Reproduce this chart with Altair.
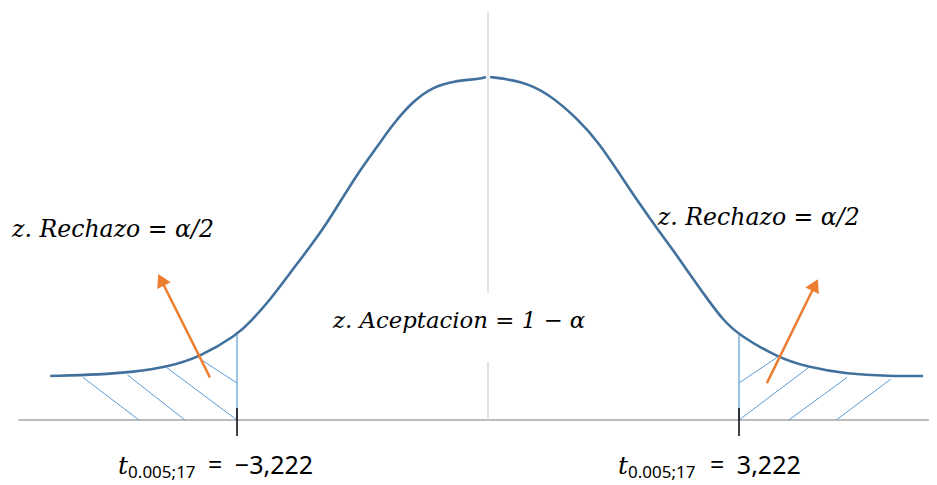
import altair as alt
import pandas as pd
import math

# ---- data (t units on x, density-like units on y) ----
left_t = [-5.62, -4.98, -4.56, -4.12, -3.70, -3.222, -3.055, -2.798, -2.542, -2.285,
          -2.067, -1.861, -1.643, -1.425, -1.220, -0.963, -0.706, -0.449, -0.103, -0.026]
left_d = [0.0506, 0.0523, 0.0552, 0.0609, 0.0724, 0.0977, 0.1126, 0.1379, 0.1690, 0.1989,
          0.2264, 0.2563, 0.2874, 0.3138, 0.3402, 0.3667, 0.3828, 0.3897, 0.3920, 0.3943]
right_t = [0.026, 0.424, 0.770, 1.168, 1.425, 1.682, 1.938, 2.157, 2.375, 2.580,
           2.798, 3.017, 3.222, 3.710, 4.095, 4.609, 5.160, 5.584]
right_d = [0.3943, 0.3897, 0.3759, 0.3448, 0.3184, 0.2839, 0.2494, 0.2218, 0.1954, 0.1690,
           0.1414, 0.1149, 0.0977, 0.0724, 0.0609, 0.0529, 0.0506, 0.0506]

t_crit = 3.222
crit_height = 0.0977

# hatch segments (x, y, x2, y2)
hatch_x1 = [-5.20, -4.63, -4.12, -3.66, 3.222, 3.222, 3.86, 4.47]
hatch_y1 = [0.049, 0.052, 0.060, 0.068, 0.0425, 0.0, 0.0, 0.0]
hatch_x2 = [-4.48, -3.89, -3.222, -3.222, 3.71, 4.11, 4.61, 5.17]
hatch_y2 = [0.0, 0.0, 0.0, 0.0425, 0.072, 0.060, 0.049, 0.047]

# arrows: tail -> tip
arrow_tail_t = [-3.57, 3.58]
arrow_tail_d = [0.049, 0.0425]
arrow_tip_t = [-4.24, 4.24]
arrow_tip_d = [0.169, 0.163]

labels = ["z. Rechazo = α/2", "z. Rechazo = α/2", "z. Aceptacion = 1 − α"]
label_t = [-6.11, 2.18, -1.99]
label_d = [0.210, 0.224, 0.106]
label_size = [23.6, 23.6, 22.8]

crit_sub = "0.005;17"
crit_values = ["=\u2002−3,222", "=\u20023,222"]

# ---- scales ----
PX_PER_T = 77.9
PX_PER_D = 870.0
xs = alt.Scale(domain=[-6.162, 5.661], nice=False, zero=False)
ys = alt.Scale(domain=[-0.0735, 0.4736], nice=False, zero=False)
X = lambda f: alt.X(f, type="quantitative", scale=xs, axis=None)
Y = lambda f: alt.Y(f, type="quantitative", scale=ys, axis=None)

curve = pd.DataFrame({
    "t": left_t + right_t,
    "d": left_d + right_d,
    "side": ["L"] * len(left_t) + ["R"] * len(right_t),
})

base_df = pd.DataFrame({"x": [-6.03], "x2": [5.66], "y": [0.0], "y2": [0.0]})
center_df = pd.DataFrame({"x": [0.0, 0.0], "x2": [0.0, 0.0],
                          "y": [0.469, 0.0667], "y2": [0.146, 0.0]})
crit_df = pd.DataFrame({"x": [-t_crit, t_crit], "x2": [-t_crit, t_crit],
                        "y": [0.0, 0.0], "y2": [crit_height, crit_height]})
tick_df = pd.DataFrame({"x": [-t_crit, t_crit], "x2": [-t_crit, t_crit],
                        "y": [0.0138, 0.0138], "y2": [-0.0184, -0.0184]})
hatch_df = pd.DataFrame({"x": hatch_x1, "y": hatch_y1, "x2": hatch_x2, "y2": hatch_y2})

heads = []
shafts = []
for tt, td, pt, pd_ in zip(arrow_tail_t, arrow_tail_d, arrow_tip_t, arrow_tip_d):
    dx = (pt - tt) * PX_PER_T
    dy = -(pd_ - td) * PX_PER_D
    L = math.hypot(dx, dy)
    ux, uy = dx / L, dy / L
    back = 7.5
    hx = pt - back * ux / PX_PER_T
    hy = pd_ + back * uy / PX_PER_D
    ang = math.degrees(math.atan2(dx, -dy)) % 360
    heads.append({"x": hx, "y": hy, "angle": ang})
    sb = 12.0
    shafts.append({"x": tt, "y": td, "x2": pt - sb * ux / PX_PER_T,
                   "y2": pd_ + sb * uy / PX_PER_D})
heads_df = pd.DataFrame(heads)
shafts_df = pd.DataFrame(shafts)

labels_df = pd.DataFrame({"x": label_t, "y": label_d, "text": labels, "fs": label_size})


def rules(df, color, width):
    return alt.Chart(df).mark_rule(color=color, strokeWidth=width).encode(
        x=X("x"), y=Y("y"), x2="x2", y2="y2")


base = rules(base_df, "#a6a6a6", 1.5)
center = rules(center_df, "#d9d9d9", 1.5)
crit = rules(crit_df, "#5b9bd5", 1.2)
hatch = rules(hatch_df, "#5b9bd5", 1.0)
ticks = rules(tick_df, "#000000", 1.5)

line = alt.Chart(curve).mark_line(color="#41719c", strokeWidth=2.6,
                                  interpolate="basis").encode(
    x=X("t"), y=Y("d"), detail="side:N")

shaft = rules(shafts_df, "#ed7d31", 2.5)
head = alt.Chart(heads_df).mark_point(shape="triangle-up", filled=True,
                                      color="#ed7d31", size=225, opacity=1).encode(
    x=X("x"), y=Y("y"), angle=alt.Angle("angle:Q", scale=None))

txt = alt.Chart(labels_df).mark_text(font="DejaVu Serif", fontStyle="italic",
                                     align="left", baseline="alphabetic",
                                     color="#000000").encode(
    x=X("x"), y=Y("y"), text="text:N", size=alt.Size("fs:Q", scale=None))

tl_df = pd.DataFrame({"x": [-4.75, 1.669], "y": [-0.062, -0.062], "text": ["t", "t"]})
sub_df = pd.DataFrame({"x": [-4.62, 1.797], "y": [-0.0667, -0.0667],
                       "text": [crit_sub, crit_sub]})
val_df = pd.DataFrame({"x": [-3.594, 2.85], "y": [-0.062, -0.062], "text": crit_values})

t_txt = alt.Chart(tl_df).mark_text(font="DejaVu Serif", fontStyle="italic", fontSize=25,
                                   align="left", baseline="alphabetic").encode(
    x=X("x"), y=Y("y"), text="text:N")
sub_txt = alt.Chart(sub_df).mark_text(font="Noto Sans", fontSize=17,
                                      align="left", baseline="alphabetic").encode(
    x=X("x"), y=Y("y"), text="text:N")
val_txt = alt.Chart(val_df).mark_text(font="Noto Sans", fontSize=25,
                                      align="left", baseline="alphabetic").encode(
    x=X("x"), y=Y("y"), text="text:N")

chart = alt.layer(base, center, hatch, crit, ticks, line, shaft, head,
                  txt, t_txt, sub_txt, val_txt).properties(
    width=921, height=476, padding=0, autosize=alt.AutoSizeParams(type="none"),
    background="white"
).configure_view(stroke=None)

chart.save("out.html", embed_options={"renderer": "svg", "actions": False})
